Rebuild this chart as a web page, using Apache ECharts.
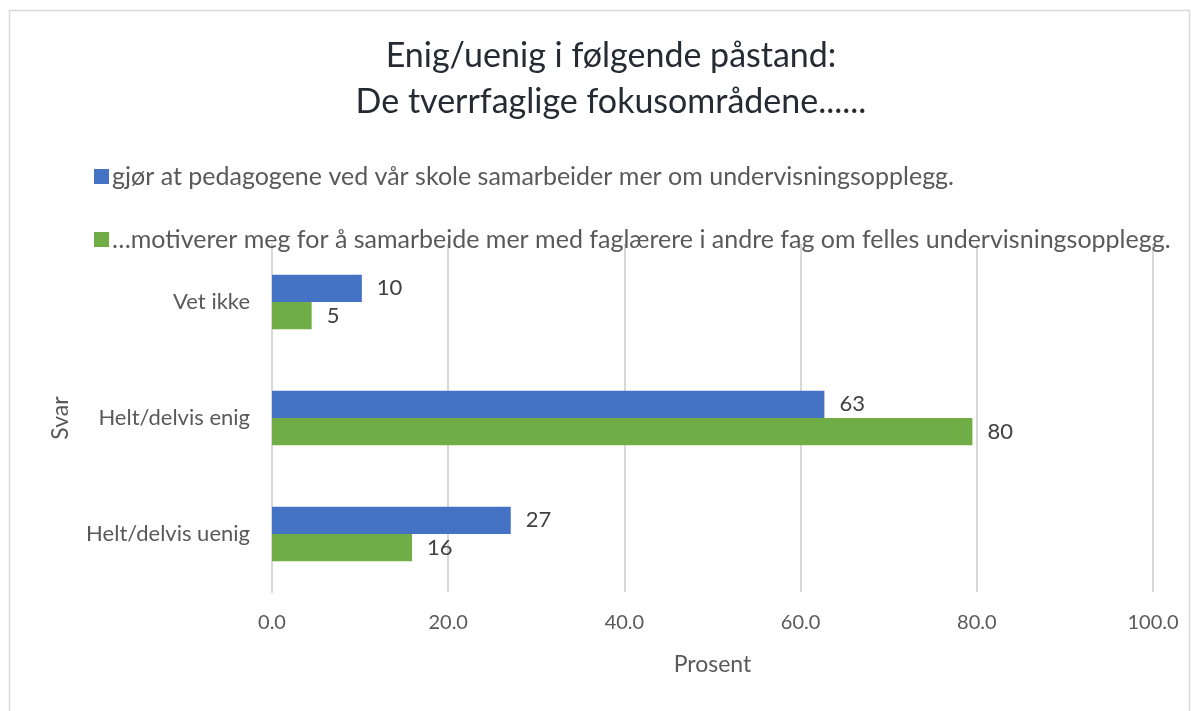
<!DOCTYPE html>
<html>
<head>
<meta charset="utf-8">
<script src="https://cdn.jsdelivr.net/npm/echarts@6/dist/echarts.min.js"></script>
<style>
  html, body { margin: 0; padding: 0; background: #fff; }
  #main { width: 1194px; height: 711px; }
</style>
</head>
<body>
<div id="main"></div>
<script>
// data
var categories = ['Vet ikke', 'Helt/delvis enig', 'Helt/delvis uenig'];
var seriesNames = [
  'gjør at pedagogene ved vår skole samarbeider mer om undervisningsopplegg.',
  '…motiverer meg for å samarbeide mer med faglærere i andre fag om felles undervisningsopplegg.'
];
var samarbeider = [10.2, 62.7, 27.1];
var motiverer = [4.5, 79.5, 15.9];
var xTicks = [0, 20, 40, 60, 80, 100];

var FONT = 'Lato';
var chart = echarts.init(document.getElementById('main'));

function barSeries(name, data, color) {
  return {
    name: name,
    type: 'bar',
    data: data,
    barGap: '0%',
    barCategoryGap: '53%',
    itemStyle: { color: color },
    label: {
      show: true,
      position: 'right',
      distance: 15,
      color: '#404040',
      fontFamily: FONT,
      fontSize: 22,
      formatter: function (p) { return Math.round(p.value); }
    }
  };
}

var option = {
  animation: false,
  graphic: [{
    type: 'rect',
    shape: { x: 9.5, y: 10.5, width: 1180, height: 760 },
    style: { fill: 'none', stroke: '#d9d9d9', lineWidth: 1.5 },
    silent: true
  }],
  title: {
    text: 'Enig/uenig i følgende påstand:\nDe tverrfaglige fokusområdene......',
    left: 606,
    textAlign: 'center',
    top: 28,
    textStyle: {
      fontFamily: FONT,
      fontSize: 34,
      fontWeight: 'normal',
      color: '#262b33',
      lineHeight: 46
    }
  },
  legend: {
    orient: 'vertical',
    left: 89,
    top: 159,
    itemWidth: 15,
    itemHeight: 15,
    itemGap: 38,
    icon: 'rect',
    data: seriesNames,
    textStyle: { fontFamily: FONT, fontSize: 25, color: '#595959', padding: [0, 0, 0, -2] }
  },
  grid: { left: 272, right: 41, top: 244, bottom: 119 },
  xAxis: {
    type: 'value',
    min: xTicks[0],
    max: xTicks[xTicks.length - 1],
    interval: 20,
    name: 'Prosent',
    nameLocation: 'middle',
    nameGap: 61,
    nameTextStyle: { fontFamily: FONT, fontSize: 23, color: '#595959' },
    axisLine: { show: false },
    axisTick: { show: false },
    axisLabel: {
      margin: 21,
      fontFamily: FONT,
      fontSize: 20,
      color: '#595959',
      formatter: function (v) { return v.toFixed(1); }
    },
    splitLine: { lineStyle: { color: '#d9d9d9', width: 2 } }
  },
  yAxis: {
    type: 'category',
    data: categories,
    inverse: true,
    name: 'Svar',
    nameLocation: 'middle',
    nameGap: 200,
    nameRotate: 90,
    nameTextStyle: { fontFamily: FONT, fontSize: 23, color: '#595959' },
    axisLine: { show: true, lineStyle: { color: '#d9d9d9', width: 2 } },
    axisTick: { show: false },
    axisLabel: { margin: 22, fontFamily: FONT, fontSize: 22, color: '#595959' }
  },
  series: [
    barSeries(seriesNames[0], samarbeider, '#4472c4'),
    barSeries(seriesNames[1], motiverer, '#70ad47')
  ]
};

chart.setOption(option);
</script>
</body>
</html>
